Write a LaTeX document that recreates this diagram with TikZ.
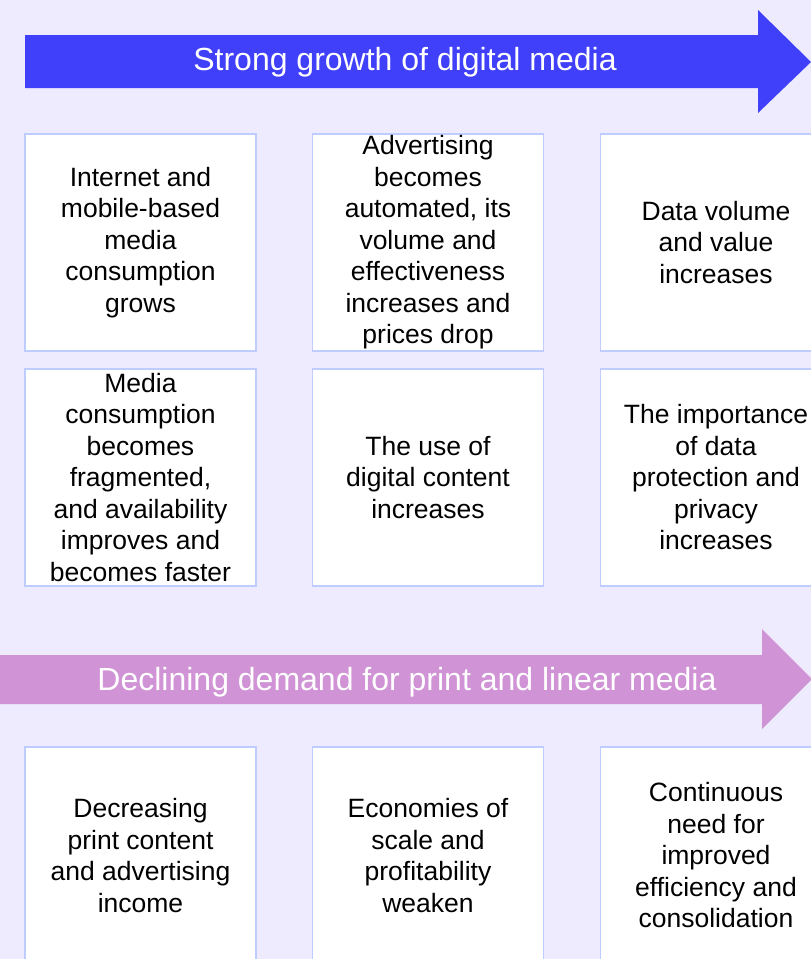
\documentclass[tikz,border=0pt]{standalone}
\usepackage{fontspec}
\setmainfont{Liberation Sans}
\definecolor{bgcol}{HTML}{EDEBFD}
\definecolor{growblue}{HTML}{4040FA}
\definecolor{declpink}{HTML}{D093D6}
\definecolor{cellline}{HTML}{BFCCFF}
\begin{document}
\begin{tikzpicture}[x=1pt,y=-1pt,
    cell/.style={draw=cellline, line width=1.2pt, fill=white, minimum width=231pt, minimum height=217pt, inner sep=0pt},
    celltext/.style={align=center, inner sep=0pt, font=\fontsize{26.5}{31.5}\selectfont},
    banner/.style={text=white, anchor=base, inner sep=0pt, font=\fontsize{32}{36}\selectfont}]
    % Draw background
    \fill[bgcol] (0,0) rectangle (811,959);
    \useasboundingbox (0,0) rectangle (811,959);

    % Draw the two big arrows
    \fill[growblue] (25,35) -- (758,35) -- (758,10) -- (811,62) -- (758,113) -- (758,88) -- (25,88) -- cycle;
    \node[banner] (grow) at (405,70) {Strong growth of digital media};
    \fill[declpink] (0,655) -- (762,655) -- (762,629) -- (812,679) -- (762,729) -- (762,704) -- (0,704) -- cycle;
    \node[banner] (decline) at (407,690) {Declining demand for print and linear media};

    % Draw the cells
    \foreach \col/\x in {1/140.5, 2/428, 3/716}
      \foreach \row/\y in {1/242.5, 2/477.5, 3/855.5}
        \node[cell] (c\row\col) at (\x,\y) {};

    % Cell texts
    \node[celltext] (t11) at (c11) {Internet and\\mobile-based\\media\\consumption\\grows};
    \node[celltext] (t12) at (c12) {Advertising\\becomes\\automated, its\\volume and\\effectiveness\\increases and\\prices drop};
    \node[celltext] (t13) at (c13) {Data volume\\and value\\increases};
    \node[celltext] (t21) at (c21) {Media\\consumption\\becomes\\fragmented,\\and availability\\improves and\\becomes faster};
    \node[celltext] (t22) at (c22) {The use of\\digital content\\increases};
    \node[celltext] (t23) at (c23) {The importance\\of data\\protection and\\privacy\\increases};
    \node[celltext] (t31) at (c31) {Decreasing\\print content\\and advertising\\income};
    \node[celltext] (t32) at (c32) {Economies of\\scale and\\profitability\\weaken};
    \node[celltext] (t33) at (c33) {Continuous\\need for\\improved\\efficiency and\\consolidation};
\end{tikzpicture}
\end{document}
